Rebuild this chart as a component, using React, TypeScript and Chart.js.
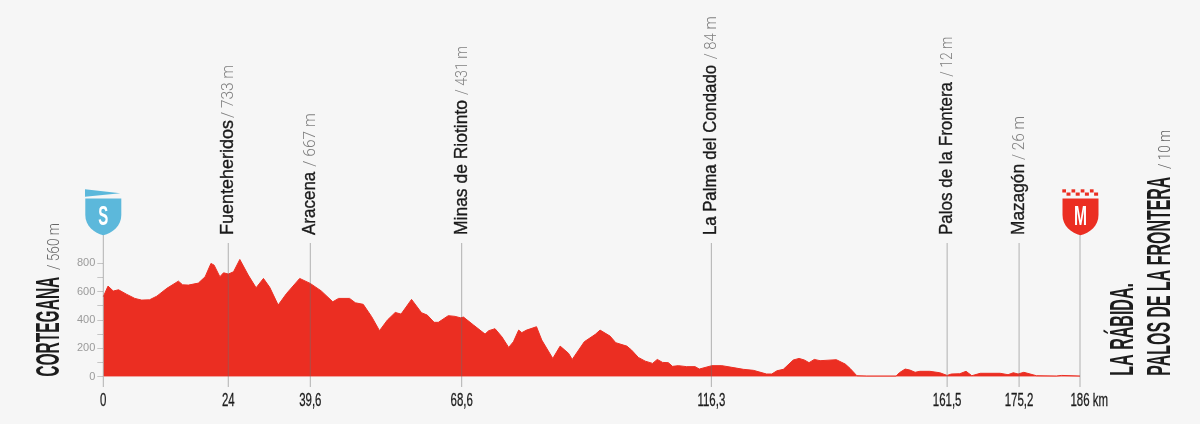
import React, { useEffect, useRef } from "react";
import { Chart, registerables } from "chart.js";

Chart.register(...registerables);

const routeKm = [
  0, 0.9, 1.9, 2.9, 4.4, 6, 7.3, 8.8, 10.2, 12.1, 14.3, 15.1, 16.2, 18.1, 19.4, 20.5, 21.1, 22.2, 22.9, 23.8,
  24.8, 26, 27.6, 29.1, 30.5, 31.7, 33.3, 34.9, 37.4, 39.4, 41.5, 43.7, 44.8, 46.9, 48, 49.5, 51.1, 52.6, 54.1,
  55.6, 56.7, 58.7, 60.6, 61.7, 63, 63.8, 65.7, 67, 68, 68.6, 70.5, 72.7, 73.4, 74.6, 75.9, 77.2, 78.1, 79.1,
  79.7, 80.6, 82.5, 83.5, 85.6, 87, 88.6, 89.3, 91.6, 93.7, 94.6, 96.5, 97.6, 99.7, 100.6, 101.9, 103.2, 104.6,
  105.5, 106.5, 107.6, 108.4, 109.5, 111.1, 112.7, 113.5, 115.9, 117.8, 119.7, 121.9, 123.8, 126.3, 127.3,
  128.3, 129.5, 131.4, 132.5, 133.5, 134.4, 135.4, 136.5, 139.6, 141.3, 142.2, 143.5, 145.4, 151, 151.6, 152.7,
  153.6, 154.6, 155.5, 157.4, 159.3, 160.7, 161.5, 163.1, 164.3, 165.4, 167, 170.8, 172.3, 173.3, 174.2, 175.3,
  177.7, 181.5, 182.5, 186,
];
const routeElevation = [
  565, 640, 605, 614, 583, 553, 541, 543, 569, 624, 675, 649, 647, 661, 706, 800, 788, 706, 734, 725,
  741, 828, 718, 628, 694, 631, 506, 588, 694, 659, 606, 529, 553, 553, 522, 511, 424, 325, 400,
  454, 442, 546, 452, 435, 384, 384, 431, 426, 416, 421, 365, 301, 325, 339, 282, 207, 247, 329,
  311, 329, 353, 259, 129, 216, 165, 122, 247, 299, 329, 287, 240, 216, 188, 136, 110, 94,
  122, 101, 99, 73, 78, 71, 71, 54, 78, 78, 66, 52, 45, 19, 19,
  42, 52, 118, 129, 118, 99, 122, 113, 120, 89, 59, 7, 5, 5, 28, 54,
  47, 31, 38, 38, 28, 9, 19, 21, 38, 7, 24, 24, 14, 28, 19, 31,
  7, 5, 9, 5,
];

const tickKm = [0, 23.8, 39.42, 68.25, 115.8, 160.7, 174.4, 186];
const tickLabels = ["0", "24", "39,6", "68,6", "116,3", "161,5", "175,2", "186"];
const distanceUnit = "km";
const elevationTicks = [0, 100, 200, 300, 400, 500, 600, 700, 800];

const placeKm = [23.8, 39.42, 68.25, 115.8, 160.7, 174.4];
const placeNames = ["Fuenteheridos", "Aracena", "Minas de Riotinto", "La Palma del Condado", "Palos de la Frontera", "Mazagón"];
const placeHeights = ["/ 733 m", "/ 667 m", "/ 431 m", "/ 84 m", "/ 12 m", "/ 26 m"];

// Text fitting measured on the reference, in pixels along the rotated text
const nameLengths = [115, 63.3, 135, 170, 153, 71];
const heightStarts = [118, 166.7, 95, 59.3, 76.7, 160];
const heightLengths = [53, 53.4, 49, 43, 40, 44];

const startName = "CORTEGANA";
const startHeight = "/ 560 m";
const finishNameLines = ["LA RÁBIDA.", "PALOS DE LA FRONTERA"];
const finishHeight = "/ 10 m";
const startBadge = "S";
const finishBadge = "M";

const RED = "#EB2E22";
const BLUE = "#5CB8DB";
const PAGE = "#F6F6F6";
const SANS = '"Liberation Sans", Arial, sans-serif';
const LIGHT = 'Roboto, "Liberation Sans", sans-serif';

type Ctx = CanvasRenderingContext2D;

function drawUp(ctx: Ctx, text: string, x: number, y: number, font: string, color: string, len?: number, weight = 0) {
  ctx.save();
  ctx.translate(x, y);
  ctx.rotate(-Math.PI / 2);
  ctx.font = font;
  ctx.fillStyle = color;
  ctx.textAlign = "left";
  ctx.textBaseline = "alphabetic";
  if (len) ctx.scale(len / ctx.measureText(text).width, 1);
  ctx.fillText(text, 0, 0);
  if (weight) {
    ctx.strokeStyle = color;
    ctx.lineWidth = weight;
    ctx.strokeText(text, 0, 0);
  }
  ctx.restore();
}

function shieldPath(ctx: Ctx, cx: number) {
  ctx.beginPath();
  ctx.moveTo(cx - 18, 198.4);
  ctx.lineTo(cx + 18, 198.4);
  ctx.lineTo(cx + 18, 215);
  ctx.bezierCurveTo(cx + 18, 226, cx + 9, 233, cx, 235.2);
  ctx.bezierCurveTo(cx - 9, 233, cx - 18, 226, cx - 18, 215);
  ctx.closePath();
}

function badgeLetter(ctx: Ctx, text: string, cx: number, w: number) {
  ctx.save();
  ctx.font = `bold 27px ${SANS}`;
  ctx.fillStyle = "#fff";
  ctx.textAlign = "center";
  ctx.textBaseline = "alphabetic";
  ctx.translate(cx, 225);
  ctx.scale(w / ctx.measureText(text).width, 1);
  ctx.fillText(text, 0, 0);
  ctx.restore();
}

const profileDecor = {
  id: "profileDecor",
  afterDraw(chart: any) {
    const ctx: Ctx = chart.ctx;
    const xs = chart.scales.x;
    const x0 = xs.getPixelForValue(0);
    const x1 = xs.getPixelForValue(186);

    ctx.save();
    // guide lines
    ctx.lineWidth = 1;
    ctx.strokeStyle = "rgba(110,110,110,0.5)";
    placeKm.forEach((km) => {
      const x = xs.getPixelForValue(km);
      ctx.beginPath();
      ctx.moveTo(x, 243);
      ctx.lineTo(x, 387);
      ctx.stroke();
    });
    [x0, x1].forEach((x) => {
      ctx.beginPath();
      ctx.moveTo(x, 235);
      ctx.lineTo(x, 387);
      ctx.stroke();
    });

    // place labels
    placeKm.forEach((km, i) => {
      const x = xs.getPixelForValue(km) + 5;
      drawUp(ctx, placeNames[i], x, 235, `19px ${SANS}`, "#1a1a1a", nameLengths[i], 0.35);
      drawUp(ctx, placeHeights[i], x, heightStarts[i], `300 16.4px ${LIGHT}`, "#808080", heightLengths[i]);
    });

    // start / finish titles
    const titleFont = `bold 33px ${SANS}`;
    drawUp(ctx, startName, 59, 376.7, titleFont, "#1c1c1c", 100);
    drawUp(ctx, startHeight, 59, 270, `300 16px ${LIGHT}`, "#666", 47);
    drawUp(ctx, finishNameLines[0], 1133, 375.7, titleFont, "#1c1c1c", 92.7);
    drawUp(ctx, finishNameLines[1], 1169.5, 375.7, titleFont, "#1c1c1c", 199);
    drawUp(ctx, finishHeight, 1169.5, 169, `300 16px ${LIGHT}`, "#666", 39);

    // distance tick labels from the x scale
    ctx.font = `18.5px ${SANS}`;
    ctx.fillStyle = "#1c1c1c";
    ctx.strokeStyle = "#1c1c1c";
    ctx.lineWidth = 0.3;
    ctx.textBaseline = "alphabetic";
    const narrow = 0.62;
    xs.ticks.forEach((t: any, i: number) => {
      ctx.save();
      ctx.translate(xs.getPixelForTick(i), 406.3);
      ctx.scale(narrow, 1);
      ctx.textAlign = "center";
      ctx.fillText(String(t.label), 0, 0);
      ctx.strokeText(String(t.label), 0, 0);
      if (i === xs.ticks.length - 1) {
        const w = ctx.measureText(String(t.label)).width;
        ctx.textAlign = "left";
        ctx.fillText(" " + distanceUnit, w / 2, 0);
        ctx.strokeText(" " + distanceUnit, w / 2, 0);
      }
      ctx.restore();
    });

    // start shield
    ctx.fillStyle = BLUE;
    ctx.beginPath();
    ctx.moveTo(x0 - 18.3, 189.3);
    ctx.lineTo(x0 + 17, 193.3);
    ctx.lineTo(x0 - 18.3, 196.7);
    ctx.closePath();
    ctx.fill();
    shieldPath(ctx, x0);
    ctx.fill();
    badgeLetter(ctx, startBadge, x0, 10);

    // finish shield
    ctx.fillStyle = RED;
    const cx = x1 + 0.5;
    for (let i = 0; i < 4; i++) {
      ctx.fillRect(cx - 18.2 + i * 9.2, 189.3, 3.7, 3.2);
      ctx.fillRect(cx - 14 + i * 9.2, 192.5, 4, 3.2);
    }
    shieldPath(ctx, cx);
    ctx.fill();
    badgeLetter(ctx, finishBadge, cx, 13);
    ctx.restore();
  },
};

export default function App() {
  const ref = useRef<HTMLCanvasElement | null>(null);
  useEffect(() => {
    if (!ref.current) return;
    const chart = new Chart(ref.current, {
      type: "line",
      data: {
        datasets: [
          {
            data: routeKm.map((x, i) => ({ x, y: routeElevation[i] })),
            borderColor: RED,
            borderWidth: 1,
            backgroundColor: RED,
            fill: "origin",
            tension: 0,
            pointRadius: 0,
            clip: false,
          },
        ],
      },
      options: {
        animation: false,
        responsive: false,
        devicePixelRatio: 1,
        layout: { padding: { left: 0, right: 120, top: 8.15, bottom: 0 } },
        plugins: { legend: { display: false }, tooltip: { enabled: false }, title: { display: false } },
        scales: {
          x: {
            type: "linear",
            min: 0,
            max: 186,
            grid: { display: false },
            border: { display: false },
            afterBuildTicks: (s: any) => {
              s.ticks = tickKm.map((value) => ({ value }));
            },
            afterFit: (s: any) => {
              s.height = 47.3;
            },
            ticks: {
              display: false,
              autoSkip: false,
              callback: (_v: any, i: number) => tickLabels[i],
            },
          },
          y: {
            min: 0,
            max: 2600,
            grid: { drawOnChartArea: false, drawTicks: true, tickLength: 6, color: "#c6c6c6" },
            border: { display: false },
            afterBuildTicks: (s: any) => {
              s.ticks = elevationTicks.map((value) => ({ value }));
            },
            afterFit: (s: any) => {
              s.width = 103.3;
            },
            ticks: {
              autoSkip: false,
              padding: 2,
              color: "#9b9b9b",
              font: { family: SANS, size: 11 },
              callback: (v: any) => (Number(v) % 200 === 0 ? String(v) : ""),
            },
          },
        },
      },
      plugins: [profileDecor],
    } as any);
    return () => chart.destroy();
  }, []);
  return (
    <div style={{ position: "fixed", left: 0, top: 0, width: 1200, height: 424, background: PAGE }}>
      <canvas ref={ref} width={1200} height={424} style={{ display: "block" }} />
    </div>
  );
}
